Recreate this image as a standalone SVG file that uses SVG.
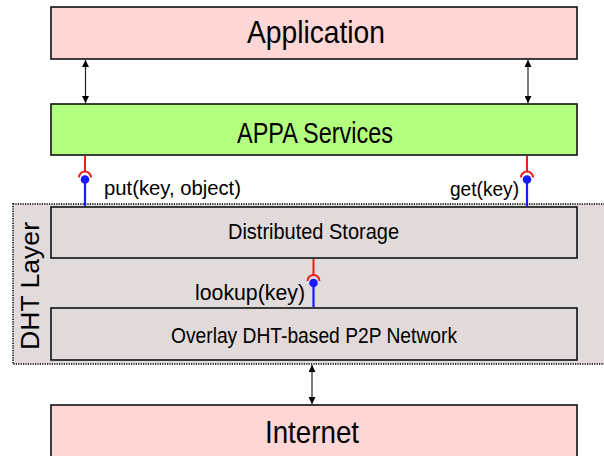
<svg xmlns="http://www.w3.org/2000/svg" width="604" height="456" viewBox="0 0 604 456">
<style>
  text { font-family: "Liberation Sans", Arial, sans-serif; fill: #000; }
  .box { stroke: #111; stroke-width: 1.6; }
  .pink { fill: #ffd6d6; }
  .green { fill: #b3ff80; }
  .grey { fill: #e2dada; }
  .arrow { stroke: #222; stroke-width: 1.2; fill: none; }
  .req { stroke: #e8201a; stroke-width: 2; fill: none; }
  .prov { stroke: #1a1aff; stroke-width: 2.2; fill: none; }
  .dot { fill: #1a1aff; }
</style>
<defs>
  <marker id="ah" viewBox="0 0 10 10" refX="10" refY="5" markerWidth="7" markerHeight="7" markerUnits="userSpaceOnUse" orient="auto-start-reverse">
    <path d="M0,0 L10,5 L0,10 z" fill="#000"/>
  </marker>
</defs>

<g id="dht-layer">
  <rect x="13" y="204" width="600" height="160" fill="#e2dbdb" stroke="#333" stroke-width="2" stroke-dasharray="1.2,1.2"/>
  <text transform="translate(38.5,286) rotate(-90)" font-size="26" text-anchor="middle" textLength="128" lengthAdjust="spacingAndGlyphs">DHT Layer</text>
</g>

<g id="application">
  <rect class="box pink" x="51" y="7" width="526" height="52"/>
  <text x="316" y="43" font-size="32" text-anchor="middle" textLength="138" lengthAdjust="spacingAndGlyphs">Application</text>
</g>

<g id="appa-services">
  <rect class="box green" x="51" y="104" width="526" height="51"/>
  <text x="315" y="142.5" font-size="29" text-anchor="middle" textLength="156" lengthAdjust="spacingAndGlyphs">APPA Services</text>
</g>

<g id="distributed-storage">
  <rect class="box grey" x="51" y="207" width="526" height="51"/>
  <text x="313.5" y="239" font-size="22" text-anchor="middle" textLength="171" lengthAdjust="spacingAndGlyphs">Distributed Storage</text>
</g>

<g id="overlay-network">
  <rect class="box grey" x="51" y="308" width="526" height="52"/>
  <text x="314" y="343" font-size="22" text-anchor="middle" textLength="286" lengthAdjust="spacingAndGlyphs">Overlay DHT-based P2P Network</text>
</g>

<g id="internet">
  <rect class="box pink" x="51" y="405" width="526" height="60"/>
  <text x="265" y="443" font-size="32" textLength="94" lengthAdjust="spacingAndGlyphs">Internet</text>
</g>

<g id="connectors">
  <line class="arrow" x1="85.5" y1="60" x2="85.5" y2="103" marker-start="url(#ah)" marker-end="url(#ah)"/>
  <line class="arrow" x1="528" y1="60" x2="528" y2="103" marker-start="url(#ah)" marker-end="url(#ah)"/>
  <line class="arrow" x1="312" y1="365" x2="312" y2="404" marker-start="url(#ah)" marker-end="url(#ah)"/>

  <g id="put">
    <line class="req" x1="85" y1="156" x2="85" y2="172"/>
    <path class="req" d="M79,177.5 A6,6 0 0 1 91,177.5"/>
    <line class="prov" x1="85" y1="179" x2="85" y2="206"/>
    <circle class="dot" cx="85" cy="179.5" r="4.3"/>
    <text x="104" y="195" font-size="20.5" textLength="137" lengthAdjust="spacingAndGlyphs">put(key, object)</text>
  </g>
  <g id="get">
    <line class="req" x1="527" y1="156" x2="527" y2="172"/>
    <path class="req" d="M521,177.5 A6,6 0 0 1 533,177.5"/>
    <line class="prov" x1="527" y1="179" x2="527" y2="206"/>
    <circle class="dot" cx="527" cy="179.5" r="4.3"/>
    <text x="450" y="196" font-size="20.5" textLength="69" lengthAdjust="spacingAndGlyphs">get(key)</text>
  </g>
  <g id="lookup">
    <line class="req" x1="313.5" y1="259" x2="313.5" y2="275"/>
    <path class="req" d="M307.5,281 A6,6 0 0 1 319.5,281"/>
    <line class="prov" x1="313.5" y1="283" x2="313.5" y2="307"/>
    <circle class="dot" cx="313.5" cy="283" r="4.3"/>
    <text x="195" y="300" font-size="21.5" textLength="110" lengthAdjust="spacingAndGlyphs">lookup(key)</text>
  </g>
</g>
</svg>
